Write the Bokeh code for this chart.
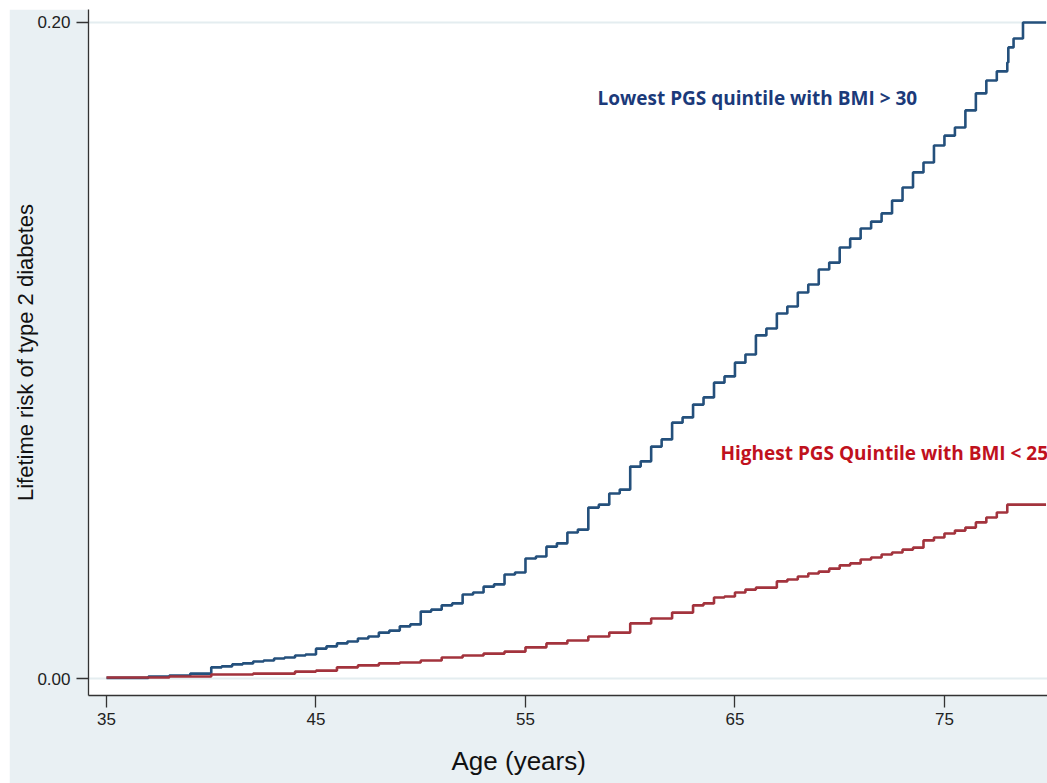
from bokeh.plotting import figure
from bokeh.models import FixedTicker, NumeralTickFormatter, Label, Range1d, Title
from bokeh.embed import file_html
from bokeh.resources import INLINE

# Lowest PGS quintile with BMI > 30 (step curve)
blue_age = [35.0, 37.0, 38.0, 39.0, 40.0, 40.5, 41.0, 41.5, 42.0, 42.5, 43.0, 43.5,
            44.0, 44.5, 45.0, 45.5, 46.0, 46.5, 47.0, 47.5, 48.0, 48.5, 49.0, 49.5,
            50.0, 50.5, 51.0, 51.5, 52.0, 52.5, 53.0, 53.5, 54.0, 54.5, 55.0, 55.5,
            56.0, 56.5, 57.0, 57.5, 58.0, 58.5, 59.0, 59.5, 60.0, 60.5, 61.0, 61.5,
            62.0, 62.5, 63.0, 63.5, 64.0, 64.5, 65.0, 65.5, 66.0, 66.5, 67.0, 67.5,
            68.0, 68.5, 69.0, 69.5, 70.0, 70.5, 71.0, 71.5, 72.0, 72.5, 73.0, 73.5,
            74.0, 74.5, 75.0, 75.5, 76.0, 76.5, 77.0, 77.5, 78.0, 78.05, 78.3, 78.75, 79.85]
blue_risk = [0.0002, 0.0006, 0.0009, 0.0015, 0.0034, 0.0037, 0.0043, 0.0046, 0.0052, 0.0055, 0.0061, 0.0064,
             0.0070, 0.0073, 0.0091, 0.0098, 0.0107, 0.0113, 0.0122, 0.0128, 0.0140, 0.0146, 0.0159, 0.0165,
             0.0204, 0.0210, 0.0223, 0.0229, 0.0256, 0.0262, 0.0280, 0.0287, 0.0317, 0.0323, 0.0366, 0.0372,
             0.0402, 0.0412, 0.0445, 0.0454, 0.0521, 0.0530, 0.0564, 0.0576, 0.0646, 0.0662, 0.0707, 0.0729,
             0.0780, 0.0796, 0.0835, 0.0857, 0.0902, 0.0921, 0.0963, 0.0988, 0.1046, 0.1067, 0.1113, 0.1134,
             0.1177, 0.1201, 0.1247, 0.1268, 0.1314, 0.1341, 0.1372, 0.1393, 0.1418, 0.1457, 0.1497, 0.1543,
             0.1573, 0.1625, 0.1655, 0.1680, 0.1732, 0.1784, 0.1823, 0.1851, 0.1878, 0.1924, 0.1951, 0.2000, 0.2000]

# Highest PGS quintile with BMI < 25 (step curve)
red_age = [35.0, 38.0, 40.0, 42.0, 44.0, 45.0, 46.0, 47.0, 48.0, 49.0, 50.0, 51.0, 52.0, 53.0,
           54.0, 55.0, 56.0, 57.0, 58.0, 59.0, 60.0, 61.0, 62.0, 63.0, 63.5, 64.0, 64.5, 65.0,
           65.5, 66.0, 67.0, 67.5, 68.0, 68.5, 69.0, 69.5, 70.0, 70.5, 71.0, 71.5, 72.0, 72.5,
           73.0, 73.5, 74.0, 74.5, 75.0, 75.5, 76.0, 76.5, 77.0, 77.5, 78.0, 79.85]
red_risk = [0.0003, 0.0006, 0.0012, 0.0015, 0.0021, 0.0024, 0.0034, 0.0040, 0.0046, 0.0049, 0.0055, 0.0064,
            0.0070, 0.0076, 0.0082, 0.0095, 0.0107, 0.0116, 0.0128, 0.0140, 0.0168, 0.0183, 0.0201, 0.0223,
            0.0229, 0.0247, 0.0250, 0.0262, 0.0271, 0.0277, 0.0296, 0.0302, 0.0311, 0.0320, 0.0326, 0.0335,
            0.0345, 0.0351, 0.0363, 0.0369, 0.0378, 0.0384, 0.0393, 0.0399, 0.0421, 0.0430, 0.0442, 0.0451,
            0.0460, 0.0476, 0.0491, 0.0506, 0.0530, 0.0530]

x_ticks = [35, 45, 55, 65, 75]
y_ticks = [0.0, 0.2]

BG = "#e9f0f3"

p = figure(width=1038, height=774, output_backend="svg", toolbar_location=None,
           x_range=Range1d(34.14, 79.92), y_range=Range1d(-0.00518, 0.20396),
           min_border_left=79, min_border_right=0, min_border_top=0, min_border_bottom=88,
           background_fill_color="white", border_fill_color=BG,
           outline_line_color=None, margin=(9, 0, 0, 9))

p.step(blue_age, blue_risk, mode="after", line_color="#24507c", line_width=2.6)
p.step(red_age, red_risk, mode="after", line_color="#a3333d", line_width=2.6)

# axes
for ax in (p.xaxis[0], p.yaxis[0]):
    ax.axis_line_color = "#333333"
    ax.axis_line_width = 1.3
    ax.major_tick_line_color = "#333333"
    ax.major_tick_line_width = 1.3
    ax.major_tick_out = 12
    ax.major_tick_in = 0
    ax.minor_tick_line_color = None
    ax.major_label_text_font = "Liberation Sans"
    ax.major_label_text_font_size = "17px"
    ax.major_label_text_color = "#222222"
    ax.axis_label_text_font = "Liberation Sans"
    ax.axis_label_text_font_style = "normal"
    ax.axis_label_text_color = "#111111"

p.xaxis.ticker = FixedTicker(ticks=x_ticks)
p.xaxis.major_label_standoff = 5
# blank axis label used only as vertical spacing above the title below
p.xaxis.axis_label = " "
p.xaxis.axis_label_text_font_size = "2px"
p.xaxis.axis_label_standoff = 9

p.yaxis.ticker = FixedTicker(ticks=y_ticks)
p.yaxis.formatter = NumeralTickFormatter(format="0.00")
p.yaxis.axis_label = "Lifetime risk of type 2 diabetes"
p.yaxis.axis_label_text_font_size = "22px"
p.yaxis.major_label_standoff = 6
p.yaxis.axis_label_standoff = -4

p.xgrid.grid_line_color = None
p.ygrid.grid_line_color = "#e4edf0"
p.ygrid.grid_line_width = 2

# x-axis title, placed below the axis (offset to sit where the reference has it)
p.add_layout(Title(text="Age (years)", align="left", offset=363, standoff=4,
                   text_font="Liberation Sans", text_font_size="26px",
                   text_font_style="normal", text_color="#111111"), "below")

p.add_layout(Label(x=58.44, y=0.1771, text="Lowest PGS quintile with BMI > 30",
                   text_font="Open Sans", text_font_style="bold", text_font_size="19px",
                   text_color="#1b3a7a", text_baseline="middle", text_align="left"))
p.add_layout(Label(x=64.31, y=0.0689, text="Highest PGS Quintile with BMI < 25",
                   text_font="Open Sans", text_font_style="bold", text_font_size="19px",
                   text_color="#c0111d", text_baseline="middle", text_align="left"))

open("out.html", "w").write(file_html(p, INLINE))
